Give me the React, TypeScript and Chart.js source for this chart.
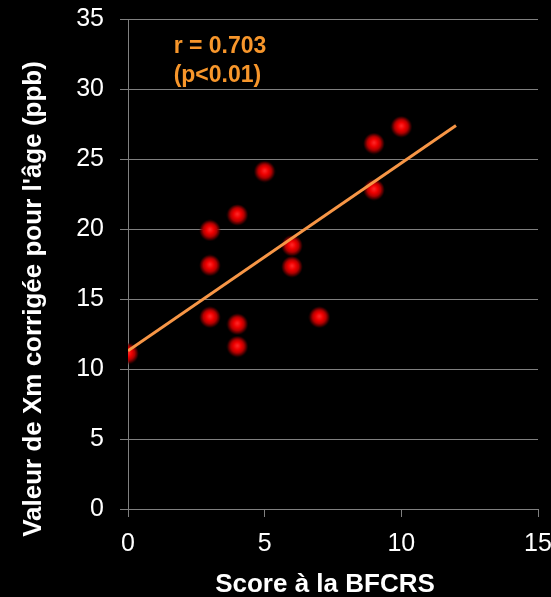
import React, { useEffect, useRef } from 'react';
import { Chart, registerables } from 'chart.js';

Chart.register(...registerables);

// Data
const scoreX = [0, 3, 3, 3, 4, 4, 4, 5, 6, 6, 7, 9, 9, 10];
const xmY = [11.1, 19.9, 17.4, 13.7, 21.0, 13.2, 11.6, 24.1, 18.8, 17.3, 13.7, 26.1, 22.8, 27.3];
const trendX = [0, 12];
const trendY = [11.3, 27.4];
const xTitle = 'Score à la BFCRS';
const yTitle = "Valeur de Xm corrigée pour l'âge (ppb)";
const annotLines = ['r = 0.703', '(p<0.01)'];
const annotAt = { x: 1.67, y: 33.0 };
const xRange = { min: 0, max: 15, step: 5 };
const yRange = { min: 0, max: 35, step: 5 };

const FONT = '"Liberation Sans", Arial, Helvetica, sans-serif';
const ORANGE_TEXT = '#F7962B';
const ORANGE_LINE = '#F79646';
const GRID = '#808080';

function makePointImage(): HTMLCanvasElement {
  const size = 22;
  const c = document.createElement('canvas');
  c.width = size;
  c.height = size;
  const g = c.getContext('2d')!;
  const r = size / 2;
  const grad = g.createRadialGradient(r, r - 1, 0, r, r, r);
  grad.addColorStop(0, '#ff2a2a');
  grad.addColorStop(0.35, '#f00000');
  grad.addColorStop(0.62, '#b00000');
  grad.addColorStop(0.82, 'rgba(110,0,0,0.7)');
  grad.addColorStop(1, 'rgba(60,0,0,0)');
  g.fillStyle = grad;
  g.beginPath();
  g.arc(r, r, r, 0, Math.PI * 2);
  g.fill();
  return c;
}

const textPlugin = {
  id: 'textPlugin',
  afterDraw(chart: any) {
    const ctx = chart.ctx as CanvasRenderingContext2D;
    const area = chart.chartArea;
    const xs = chart.scales.x;
    const ys = chart.scales.y;
    ctx.save();
    // annotation
    ctx.fillStyle = ORANGE_TEXT;
    ctx.font = `bold 23px ${FONT}`;
    ctx.textAlign = 'left';
    ctx.textBaseline = 'middle';
    const ax = xs.getPixelForValue(annotAt.x);
    const ay = ys.getPixelForValue(annotAt.y);
    annotLines.forEach((t, i) => ctx.fillText(t, ax, ay + i * 29));
    // axis titles
    ctx.fillStyle = '#ffffff';
    ctx.font = `bold 26px ${FONT}`;
    ctx.textAlign = 'center';
    ctx.textBaseline = 'middle';
    ctx.fillText(xTitle, area.left + 197, area.bottom + 76);
    ctx.translate(34, area.top + 280);
    ctx.rotate(-Math.PI / 2);
    ctx.fillText(yTitle, 0, 0);
    ctx.restore();
  },
};

export default function App() {
  const ref = useRef<HTMLCanvasElement>(null);
  useEffect(() => {
    if (!ref.current) return;
    const pointImg = makePointImage();
    const chart = new Chart(ref.current, {
      type: 'scatter',
      data: {
        datasets: [
          {
            type: 'line',
            label: 'trend',
            data: trendX.map((x, i) => ({ x, y: trendY[i] })),
            borderColor: ORANGE_LINE,
            borderWidth: 3,
            pointRadius: 0,
            fill: false,
          } as any,
          {
            label: 'points',
            data: scoreX.map((x, i) => ({ x, y: xmY[i] })),
            pointStyle: pointImg,
            pointRadius: 11,
          },
        ],
      },
      options: {
        responsive: false,
        animation: false,
        layout: { padding: { top: 19, right: 13, bottom: 0, left: 0 } },
        plugins: { legend: { display: false }, tooltip: { enabled: false } },
        scales: {
          x: {
            type: 'linear',
            min: xRange.min,
            max: xRange.max,
            ticks: {
              stepSize: xRange.step,
              color: '#ffffff',
              font: { family: FONT, size: 25 },
              padding: 12,
            },
            grid: { drawOnChartArea: false, color: GRID, tickLength: 8, tickColor: GRID },
            border: { color: GRID, width: 1 },
            afterFit: (s: any) => {
              s.height = 88;
              s.paddingLeft = 0;
              s.paddingRight = 0;
            },
          },
          y: {
            type: 'linear',
            min: yRange.min,
            max: yRange.max,
            ticks: {
              stepSize: yRange.step,
              color: '#ffffff',
              font: { family: FONT, size: 25 },
              padding: 16,
            },
            grid: { color: GRID, tickLength: 8, tickColor: GRID },
            border: { color: GRID, width: 1 },
            afterFit: (s: any) => {
              s.width = 128;
              s.paddingTop = 0;
              s.paddingBottom = 0;
            },
          },
        },
      },
      plugins: [textPlugin],
    });
    return () => chart.destroy();
  }, []);
  return (
    <div style={{ position: 'fixed', left: 0, top: 0, width: 551, height: 597, background: '#000' }}>
      <canvas ref={ref} width={551} height={597} style={{ display: 'block' }} />
    </div>
  );
}
